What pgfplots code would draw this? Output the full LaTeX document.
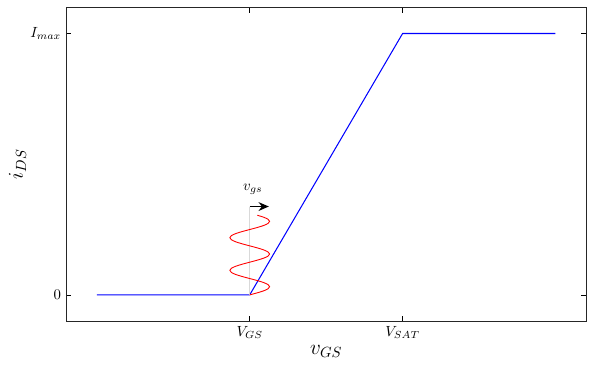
\documentclass[border=0pt]{standalone}
\usepackage{pgfplots}
\pgfplotsset{compat=1.18}
\usetikzlibrary{arrows.meta}

% Red small-signal swing around the bias point (x = V_GS + amplitude, y = i_DS)
\pgfplotstableread{
x y
1.0000 0.0000
1.0497 0.0078
1.0919 0.0156
1.1201 0.0234
1.1300 0.0313
1.1201 0.0391
1.0919 0.0469
1.0497 0.0547
1.0000 0.0625
0.9503 0.0703
0.9081 0.0781
0.8799 0.0859
0.8700 0.0938
0.8799 0.1016
0.9081 0.1094
0.9503 0.1172
1.0000 0.1250
1.0497 0.1328
1.0919 0.1406
1.1201 0.1484
1.1300 0.1563
1.1201 0.1641
1.0919 0.1719
1.0497 0.1797
1.0000 0.1875
0.9503 0.1953
0.9081 0.2031
0.8799 0.2109
0.8700 0.2188
0.8799 0.2266
0.9081 0.2344
0.9503 0.2422
1.0000 0.2500
1.0497 0.2578
1.0919 0.2656
1.1201 0.2734
1.1300 0.2813
1.1201 0.2891
1.0919 0.2969
1.0497 0.3047
}\swing

\begin{document}
\begin{tikzpicture}
\begin{axis}[
  width=353pt, height=213pt, scale only axis,
  xmin=-0.2, xmax=3.2, ymin=-0.1, ymax=1.1,
  xtick={1,2}, xticklabels={$V_{GS}$,$V_{SAT}$},
  ytick={0,1}, yticklabels={$0$,$I_{max}$},
  tick align=inside, major tick length=3.5pt,
  tick style={black, line width=0.5pt},
  axis line style={line width=0.6pt, black!85},
  xlabel={\Large $v_{GS}$}, ylabel={\Large $i_{DS}$},
  xlabel style={yshift=2pt},
  ylabel style={yshift=-4pt},
  clip=false,
]
% transfer characteristic
\addplot[blue, line width=0.7pt] coordinates {(0,0) (1,0) (2,1) (3,1)};
% bias marker and input swing
\addplot[black!15, line width=0.6pt] coordinates {(1,0) (1,0.338)};
\addplot[red, line width=0.6pt, smooth] table[x=x, y=y] {\swing};
\addplot[black, line width=0.8pt, -{Stealth[length=7pt, width=6pt]}] coordinates {(1,0.338) (1.125,0.338)};
\node at (axis cs:1.02,0.405) {$v_{gs}$};
\end{axis}
\pgfresetboundingbox
\path ([shift={(-45pt,-33pt)}]current axis.south west) rectangle ([shift={(2pt,5pt)}]current axis.north east);
\end{tikzpicture}
\end{document}
